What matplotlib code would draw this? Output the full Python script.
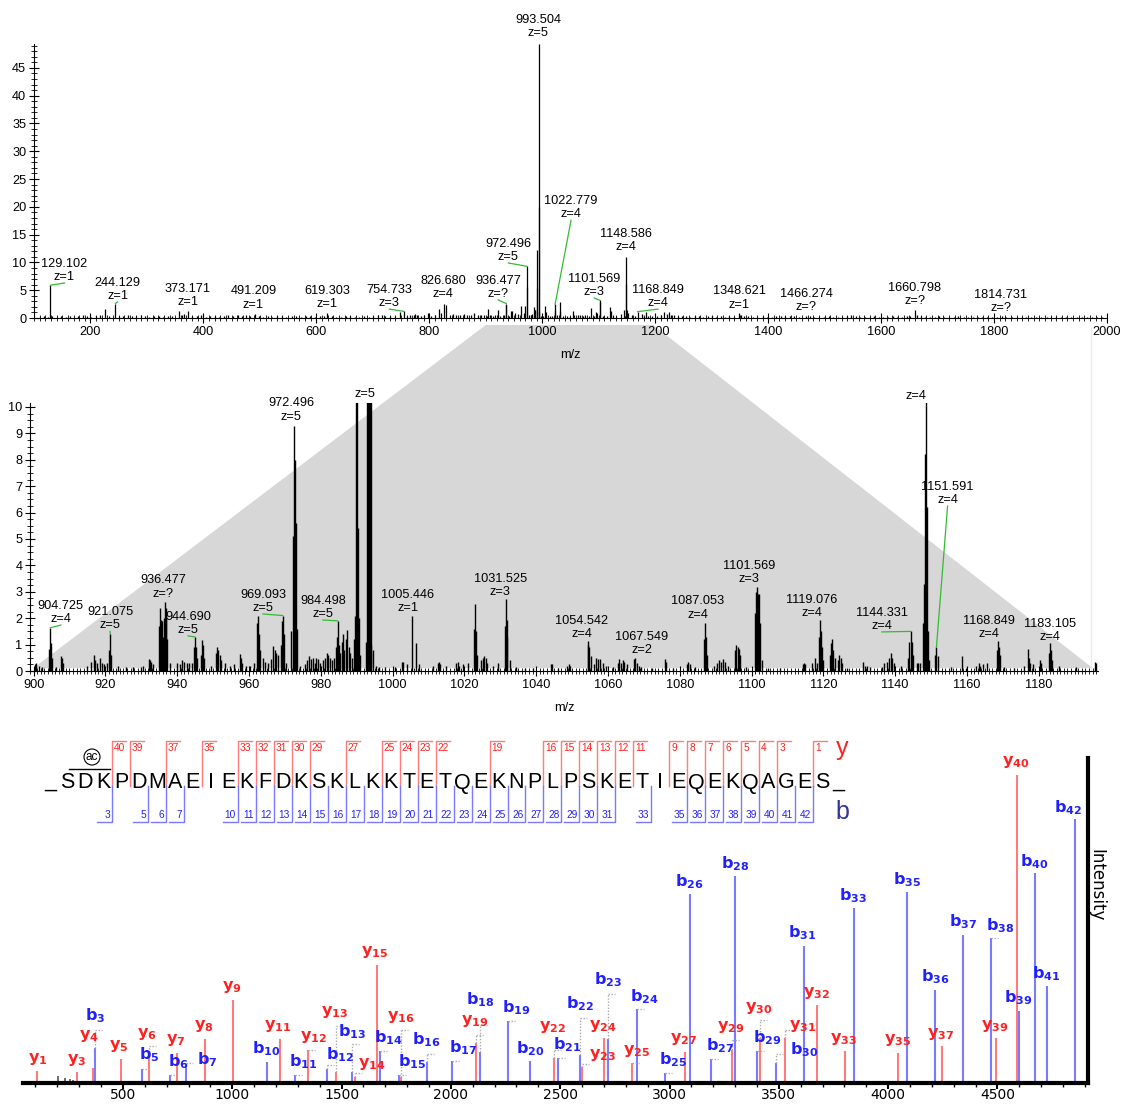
import numpy as np
import matplotlib
matplotlib.use("Agg")
import matplotlib.pyplot as plt
from matplotlib.patches import Polygon, Circle
from matplotlib.ticker import MultipleLocator

plt.rcParams['font.family'] = ['Liberation Sans', 'DejaVu Sans']
plt.rcParams['mathtext.fontset'] = 'custom'
plt.rcParams['mathtext.bf'] = 'DejaVu Sans:bold'
plt.rcParams['mathtext.rm'] = 'DejaVu Sans'

# ---------------- data: full MS scan (top) ----------------
top_mz = [110, 118, 124, 129.1, 131, 140, 147, 156, 163, 171, 178, 186, 193, 201, 209, 216, 226, 232,
          244.1, 250, 258, 266, 273, 281, 289, 296, 304, 312, 321, 329, 337, 345, 356, 362, 366, 373.2,
          380, 388, 396, 404, 411, 420, 428, 436, 444, 452, 461, 469, 476, 483, 491.2, 498, 506, 514,
          522, 531, 539, 547, 556, 564, 572, 581, 589, 597, 606, 613, 619.3, 627, 635, 644, 652, 660,
          668, 676, 685, 693, 701, 710, 716, 722, 731, 740, 748, 754.7, 760, 766, 772, 775, 779, 785,
          791, 797, 803, 810, 817.5, 820, 826.7, 830, 836, 842, 848, 855, 861, 867, 873, 880, 886, 892,
          897, 902, 904.7, 908, 913, 917, 921.1, 926, 932, 935.2, 936.5, 941, 944.7, 946.9, 951, 957.5,
          962.3, 967, 969.1, 972.5, 973, 977, 980, 982, 984.5, 986.5, 987.3, 990.1, 990.4, 993.5, 993.9,
          994.3, 997, 1002, 1005.4, 1006.4, 1013, 1018, 1022.8, 1023.3, 1026, 1031.5, 1032, 1037, 1044,
          1049, 1054.5, 1057, 1063, 1067.5, 1072, 1076, 1082.5, 1087.1, 1091, 1095.7, 1096.8, 1101.6,
          1102.2, 1108, 1115, 1119.1, 1122.5, 1124.4, 1131, 1138.9, 1144.3, 1146.5, 1148.6, 1148.9,
          1149.2, 1151.6, 1158.5, 1164, 1168.8, 1177, 1180.5, 1183.1, 1188, 1195, 1203, 1210, 1216,
          1220, 1224, 1228, 1233, 1240, 1247, 1255, 1262, 1270, 1278, 1285, 1293, 1300, 1308, 1316,
          1323, 1331, 1340, 1348.6, 1352, 1358, 1365, 1373, 1381, 1390, 1398, 1406, 1414, 1422, 1430,
          1438, 1446, 1455, 1466.3, 1474, 1482, 1490, 1499, 1507, 1515, 1523, 1531, 1540, 1547, 1555,
          1563, 1571, 1580, 1588, 1596, 1604, 1612, 1621, 1629, 1637, 1645, 1652, 1660.8, 1663, 1670,
          1678, 1687, 1695, 1703, 1712, 1720, 1729, 1737, 1746, 1754, 1762, 1771, 1779, 1788, 1796,
          1805, 1814.7, 1822, 1831, 1840, 1849, 1857, 1866, 1875, 1884, 1893, 1901, 1910, 1919, 1928,
          1937, 1946, 1955, 1964, 1973, 1982, 1991]
top_int = [0.2, 0.3, 0.25, 5.9, 0.4, 0.2, 0.3, 0.25, 0.35, 0.2, 0.3, 0.5, 0.3, 0.25, 0.4, 0.6, 1.7, 0.3,
           2.6, 0.4, 0.3, 0.5, 0.3, 0.4, 0.6, 0.3, 0.2, 0.35, 0.3, 0.25, 0.4, 0.3, 1.2, 0.6, 0.8, 1.2,
           0.4, 0.3, 0.5, 0.2, 0.3, 0.4, 0.25, 0.3, 0.45, 0.3, 0.5, 0.3, 0.6, 0.4, 0.8, 0.3, 0.25, 0.3,
           0.2, 0.35, 0.3, 0.2, 0.4, 0.3, 0.25, 0.35, 0.3, 0.2, 0.3, 0.4, 0.9, 0.3, 0.25, 0.2, 0.3, 0.35,
           0.25, 0.2, 0.3, 0.2, 0.3, 0.5, 0.6, 0.4, 0.3, 0.4, 1.0, 1.2, 0.4, 0.5, 0.6, 0.8, 0.5, 0.4,
           0.6, 0.9, 0.4, 0.5, 1.6, 0.9, 2.6, 2.3, 0.6, 0.7, 0.5, 0.6, 0.8, 0.5, 0.6, 0.9, 0.6, 0.5,
           0.6, 0.4, 1.6, 0.6, 0.4, 0.6, 1.4, 0.4, 0.5, 2.4, 2.6, 0.4, 1.3, 1.2, 0.9, 0.65,
           2.1, 0.9, 2.1, 9.3, 5.6, 0.5, 0.6, 0.7, 1.9, 1.4, 1.5, 12.3, 5.4, 49.3, 20.0,
           1.0, 0.4, 0.35, 2.1, 1.0, 0.35, 0.35, 2.5, 1.5, 0.5, 2.8, 1.3, 0.4, 0.3,
           0.3, 1.2, 0.5, 0.45, 0.5, 0.4, 0.45, 0.35, 1.8, 0.4, 1.0, 0.85, 3.2,
           2.9, 0.4, 0.3, 1.95, 1.2, 0.6, 0.3, 0.7, 1.5, 0.3, 11.0, 6.2,
           1.5, 0.9, 0.55, 0.3, 1.14, 0.8, 0.4, 1.06, 0.3, 0.35, 0.3, 0.5, 1.0,
           0.8, 1.1, 0.6, 0.5, 0.4, 0.3, 0.3, 0.25, 0.3, 0.35, 0.25, 0.3, 0.4, 0.25, 0.3,
           0.2, 0.3, 0.25, 0.9, 0.5, 0.4, 0.3, 0.25, 0.2, 0.3, 0.2, 0.25, 0.3, 0.4, 0.3,
           0.35, 0.3, 0.25, 0.4, 0.3, 0.2, 0.25, 0.2, 0.3, 0.2, 0.25, 0.2, 0.3, 0.45, 0.3,
           0.2, 0.25, 0.2, 0.3, 0.2, 0.25, 0.2, 0.3, 0.25, 0.2, 0.3, 0.4, 1.5, 0.6, 0.3,
           0.2, 0.25, 0.2, 0.3, 0.2, 0.25, 0.2, 0.3, 0.2, 0.25, 0.2, 0.2, 0.25, 0.2, 0.2,
           0.25, 0.3, 0.2, 0.25, 0.2, 0.2, 0.25, 0.2, 0.2, 0.25, 0.2, 0.2, 0.25, 0.2, 0.2,
           0.25, 0.2, 0.2, 0.25, 0.2, 0.2, 0.2]

top_lab_mz = [129.102, 244.129, 373.171, 491.209, 619.303, 754.733, 826.680, 936.477, 972.496, 993.504,
              1022.779, 1101.569, 1148.586, 1168.849, 1348.621, 1466.274, 1660.798, 1814.731]
top_lab_z = ['1', '1', '1', '1', '1', '3', '4', '?', '5', '5', '4', '3', '4', '4', '1', '?', '?', '?']
# label anchor (bottom centre) in data units, and whether a leader is drawn
top_lab_x = [154, 248, 372, 488.5, 619.5, 729, 825, 922, 940, 993, 1051, 1092, 1149, 1205, 1349, 1467, 1660, 1812]
top_lab_y = [6.3, 2.9, 1.8, 1.3, 1.45, 1.6, 3.25, 3.25, 9.9, 50.2, 17.6, 3.6, 11.7, 1.6, 1.3, 0.9, 2.0, 0.7]
top_lead = [True, True, False, False, False, True, False, True, True, False, True, True, False, True,
            False, False, False, False]

# ---------------- data: zoomed scan 900-1200 (middle) ----------------
mid_mz = [900.3, 900.8, 901.4, 902.3, 904.3, 904.7, 904.95, 905.2, 906.2, 907.6, 907.9, 908.2,
          914.8, 915.9, 916.8, 917.1, 917.7, 918.6, 919.1, 919.6, 920.5, 921.1, 921.35, 921.6, 923.4,
          925.7, 927.8, 929.9, 930.4, 932.1, 932.4, 932.8, 933.3, 935.0, 935.25, 935.5, 935.8, 936.1,
          936.3, 936.5, 936.75, 937.0, 937.3, 938.1, 939.9, 940.7, 941.3, 941.9, 942.8, 943.4, 944.2,
          944.7, 944.95, 945.2, 945.6, 946.7, 946.9, 947.2, 947.5, 949.3, 950.8, 951.1, 951.5, 951.9,
          952.3, 953.2, 954.7, 955.8, 957.4, 957.7, 958.1, 959.2, 960.3, 961.4, 962.2, 962.5, 962.8,
          963.2, 963.8, 964.5, 965.3, 966.2, 966.8, 967.2, 967.6, 968.1, 968.8, 969.1, 969.4, 969.7,
          970.2, 971.6, 972.2, 972.5, 972.8, 973.0, 973.3, 974.3, 975.6, 976.2, 976.7, 977.3, 977.9,
          978.4, 978.8, 979.3, 979.8, 980.6, 981.1, 981.6, 982.0, 982.5, 983.0, 983.6, 984.1, 984.4,
          984.7, 985.0, 985.4, 985.9, 986.3, 986.6, 987.1, 987.4, 987.8, 988.2, 988.6, 989.2, 989.6,
          989.85, 990.1, 990.35, 990.6, 991.0, 992.6, 992.9, 993.1, 993.3, 993.5, 993.7, 993.9, 994.1,
          994.5, 995.5, 996.2, 997.9, 1000.8, 1002.5, 1002.8, 1004.1, 1005.45, 1006.4, 1007.3, 1011.3,
          1012.6, 1012.9, 1013.2, 1014.8, 1017.8, 1018.1, 1018.5, 1019.6, 1021.0, 1022.7, 1022.95,
          1023.2, 1023.6, 1024.5, 1025.1, 1025.5, 1025.9, 1026.4, 1028.0, 1029.5, 1031.3, 1031.5,
          1031.75, 1032.0, 1032.6, 1034.5, 1037.0, 1039.2, 1044.0, 1044.3, 1046.2, 1048.5, 1049.1,
          1049.5, 1054.3, 1054.55, 1054.8, 1055.2, 1056.0, 1056.7, 1057.3, 1057.9, 1058.6, 1059.5,
          1061.3, 1062.7, 1063.2, 1063.6, 1064.2, 1064.6, 1065.3, 1067.2, 1067.55, 1068.0, 1068.7,
          1069.3, 1072.3, 1075.8, 1076.1, 1078.2, 1081.9, 1082.4, 1082.8, 1084.3, 1086.8, 1087.05,
          1087.3, 1087.6, 1089.6, 1090.3, 1091.0, 1091.5, 1092.1, 1092.6, 1093.4, 1095.4, 1095.7,
          1096.1, 1096.5, 1096.9, 1098.4, 1100.9, 1101.3, 1101.57, 1101.85, 1102.1, 1102.4, 1102.9,
          1104.6, 1107.8, 1114.2, 1114.6, 1115.0, 1116.8, 1117.6, 1118.1, 1118.8, 1119.08, 1119.3,
          1119.6, 1120.0, 1121.8, 1122.2, 1122.5, 1122.8, 1123.2, 1124.1, 1124.4, 1124.8, 1125.2,
          1126.5, 1131.0, 1131.5, 1132.1, 1133.1, 1136.4, 1137.0, 1137.6, 1138.3, 1138.7, 1139.1,
          1139.6, 1141.6, 1143.5, 1143.9, 1144.3, 1144.6, 1145.0, 1146.0, 1146.4, 1146.9, 1147.7,
          1148.0, 1148.3, 1148.6, 1148.85, 1149.1, 1149.5, 1151.2, 1151.5, 1151.8, 1155.5, 1158.5,
          1159.8, 1162.4, 1163.3, 1163.7, 1164.4, 1165.5, 1168.4, 1168.7, 1169.0, 1169.3, 1170.2,
          1173.2, 1175.9, 1176.9, 1177.2, 1177.6, 1178.5, 1180.3, 1180.7, 1182.8, 1183.1, 1183.4,
          1183.7, 1185.6, 1190.4, 1195.6, 1195.9]
mid_int = [0.25, 0.3, 0.2, 0.15, 0.85, 1.64, 1.05, 0.5, 0.15, 0.55, 0.5, 0.3,
           0.2, 0.35, 0.6, 0.4, 0.3, 0.5, 0.3, 0.25, 0.3, 0.8, 1.42, 0.6, 0.2,
           0.15, 0.15, 0.15, 0.2, 0.45, 0.4, 0.35, 0.25, 1.7, 2.4, 1.95, 1.9, 1.3,
           2.0, 2.63, 2.2, 2.4, 1.2, 0.3, 0.3, 0.25, 0.4, 0.35, 0.3, 0.3, 0.3,
           0.9, 1.29, 0.9, 0.5, 0.6, 1.17, 1.0, 0.5, 0.2, 0.7, 0.91, 0.8, 0.6,
           0.4, 0.3, 0.2, 0.25, 0.65, 0.5, 0.3, 0.2, 0.2, 0.3, 1.8, 2.08, 1.4,
           0.8, 0.5, 0.35, 0.3, 0.45, 0.95, 0.8, 0.7, 0.6, 1.0, 1.9, 2.1, 1.4,
           0.3, 1.5, 5.1, 9.27, 8.0, 5.6, 1.6, 0.2, 0.25, 0.4, 0.55, 0.45, 0.5,
           0.3, 0.5, 0.45, 0.3, 0.4, 0.5, 0.7, 0.6, 0.5, 0.4, 0.5, 0.9, 1.3,
           1.9, 1.0, 0.7, 1.1, 1.4, 0.8, 1.2, 1.55, 0.9, 0.7, 0.5, 1.2, 2.1,
           10.2, 10.2, 5.4, 2.0, 0.6, 1.1, 10.2, 10.2, 10.2, 10.2, 10.2, 10.2, 1.0,
           0.8, 0.2, 0.15, 0.15, 0.15, 0.35, 0.35, 0.25, 2.1, 1.05, 0.25, 0.2,
           0.3, 0.35, 0.25, 0.2, 0.3, 0.35, 0.2, 0.25, 0.3, 1.6, 2.52,
           1.5, 0.6, 0.4, 0.5, 0.55, 0.5, 0.3, 0.2, 0.3, 1.7, 2.73,
           1.95, 1.3, 0.4, 0.15, 0.1, 0.1, 0.25, 0.25, 0.1, 0.2, 0.25,
           0.2, 1.0, 1.14, 0.9, 0.55, 0.25, 0.5, 0.45, 0.45, 0.3, 0.2,
           0.15, 0.3, 0.45, 0.3, 0.4, 0.35, 0.25, 0.45, 0.5, 0.3, 0.2,
           0.15, 0.1, 0.45, 0.35, 0.1, 0.25, 0.35, 0.25, 0.15, 1.2, 1.81,
           1.3, 0.6, 0.2, 0.3, 0.4, 0.35, 0.45, 0.35, 0.2, 0.8, 1.0,
           0.9, 0.85, 0.6, 0.15, 2.2, 3.0, 3.2, 2.9, 2.9, 1.8, 0.4,
           0.1, 0.1, 0.25, 0.3, 0.25, 0.3, 0.5, 0.3, 1.3, 1.95, 1.5,
           0.9, 0.4, 0.6, 1.05, 1.22, 0.8, 0.5, 0.4, 0.6, 0.5, 0.3,
           0.1, 0.35, 0.2, 0.2, 0.15, 0.15, 0.3, 0.35, 0.5, 0.7, 0.5,
           0.3, 0.2, 0.5, 1.1, 1.5, 1.1, 0.6, 0.3, 0.3, 0.3, 1.8,
           3.3, 8.2, 10.2, 6.2, 1.5, 0.4, 0.6, 0.9, 0.55, 0.15, 0.55,
           0.1, 0.2, 0.3, 0.2, 0.25, 0.3, 0.8, 1.14, 0.9, 0.6, 0.15,
           0.1, 0.2, 0.83, 0.5, 0.3, 0.25, 0.4, 0.3, 0.7, 1.06, 0.8,
           0.4, 0.2, 0.15, 0.35, 0.3]

mid_lab_mz = [904.725, 921.075, 936.477, 944.690, 969.093, 972.496, 984.498, 993.504, 1005.446,
              1031.525, 1054.542, 1067.549, 1087.053, 1101.569, 1119.076, 1144.331, 1148.586,
              1151.591, 1168.849, 1183.105]
mid_lab_z = ['4', '5', '?', '5', '5', '5', '5', '5', '1', '3', '4', '2', '4', '3', '4', '4', '4', '4', '4', '4']
mid_show_mass = [True] * 7 + [False] + [True] * 8 + [False] + [True] * 3
mid_lab_x = [907.6, 921.3, 936.0, 943.0, 963.9, 971.7, 980.6, 992.3, 1004.2, 1030.0, 1052.7, 1069.4,
             1085.0, 1099.3, 1116.8, 1136.3, 1145.8, 1154.6, 1166.1, 1183.1]
mid_lab_y = [1.74, 1.5, 2.7, 1.33, 2.16, 9.4, 1.93, 10.27, 2.16, 2.77, 1.17, 0.57, 1.9, 3.26, 1.97,
             1.48, 10.2, 6.25, 1.17, 1.06]
mid_lead = [True, True, False, True, True, False, True, False, False, False, False, False, False,
            False, False, True, False, True, False, True]

# ---------------- data: annotated MS/MS (bottom) ----------------
sequence = "SDKPDMAEIEKFDKSKLKKTETQEKNPLPSKETIEQEKQAGES"

b_num = [3, 5, 6, 7, 10, 11, 12, 13, 14, 15, 16, 17, 18, 19, 20, 21, 22, 23, 24, 25, 26, 27, 28, 29,
         30, 31, 33, 35, 36, 37, 38, 39, 40, 41, 42]
b_mz = [373.17, 585.25, 716.29, 787.33, 1158.50, 1286.59, 1433.66, 1548.69, 1676.78, 1763.81,
        1891.91, 2004.99, 2133.09, 2261.18, 2362.23, 2491.27, 2592.32, 2720.38, 2849.42, 2977.52,
        3091.56, 3188.61, 3301.70, 3398.75, 3485.78, 3613.88, 3843.97, 4086.09, 4214.15, 4343.20,
        4471.29, 4599.35, 4670.39, 4727.41, 4856.45]
b_int = [10.8, 4.2, 2.5, 5.5, 6.5, 2.5, 4.2, 3.5, 10.0, 2.5, 6.6, 6.7, 9.6, 19.2, 6.7, 7.6, 8.6,
         13.4, 22.7, 3.0, 58.2, 7.3, 63.7, 9.8, 6.3, 42.2, 53.8, 58.7, 28.7, 45.4, 44.7, 22.3, 64.5,
         29.7, 81.1]
b_lab_x = [372, 619, 756, 886, 1154, 1325, 1493, 1546, 1714, 1821, 1889, 2057, 2133, 2301, 2362,
           2530, 2591, 2717, 2885, 3017, 3089, 3231, 3300, 3447, 3615, 3609, 3841, 4085, 4215, 4341,
           4512, 4596, 4668, 4722, 4823]
b_lab_y = [20.8, 8.6, 6.6, 7.3, 10.6, 6.6, 8.6, 15.9, 14.1, 6.5, 13.4, 10.8, 25.6, 23.3, 10.6,
           11.8, 24.4, 31.7, 26.6, 7.3, 62.1, 11.4, 67.6, 13.9, 10.3, 46.3, 57.6, 62.5, 32.7, 49.5,
           48.5, 26.4, 68.0, 33.7, 84.7]

y_num = [1, 3, 4, 5, 6, 7, 8, 9, 11, 12, 13, 14, 15, 16, 19, 22, 23, 24, 25, 27, 29, 30, 31, 32,
         33, 35, 37, 39, 40]
y_mz = [106.05, 292.11, 363.15, 491.21, 619.30, 748.35, 876.40, 1005.45, 1219.58, 1348.62, 1476.72,
        1563.75, 1660.80, 1773.88, 2113.07, 2471.22, 2600.27, 2701.31, 2829.41, 3070.59, 3285.71,
        3413.81, 3528.84, 3675.90, 3804.00, 4046.13, 4246.21, 4492.28, 4589.33]
y_int = [3.7, 3.4, 4.7, 7.3, 9.5, 9.3, 13.6, 25.6, 13.6, 10.1, 3.5, 1.9, 36.3, 2.0, 12.4, 7.8, 4.9,
         13.7, 6.3, 9.6, 10.3, 13.9, 13.9, 24.1, 9.8, 9.3, 11.4, 13.7, 94.8]
y_lab_x = [112, 288, 346, 483, 611, 741, 870, 1000, 1210, 1374, 1470, 1639, 1653, 1770, 2107, 2466,
           2693, 2697, 2850, 3066, 3281, 3409, 3607, 3673, 3798, 4044, 4242, 4489, 4585]
y_lab_y = [7.3, 7.1, 14.4, 11.4, 15.1, 13.2, 17.5, 29.4, 17.5, 14.1, 21.7, 5.8, 40.2, 20.3, 19.0,
           17.2, 8.6, 17.5, 9.8, 13.4, 17.2, 23.1, 17.5, 27.6, 13.6, 13.1, 15.1, 17.5, 98.8]

other_mz = [204, 235, 258, 273]
other_int = [2.2, 1.4, 1.2, 1.0]

# grey dotted markers: peak m/z, start level, upper level
dot_mz = [373.17, 585.25, 619.30, 716.29, 787.33, 1286.59, 1348.62, 1433.66, 1476.72, 1548.69,
          1563.75, 1676.78, 1763.81, 1773.88, 1891.91, 2004.99, 2113.07, 2133.09, 2261.18, 2471.22,
          2491.27, 2592.32, 2600.27, 2720.38, 2829.41, 2849.42, 2977.52, 3188.61, 3285.71, 3398.75,
          3413.81, 3485.78, 3528.84, 4471.29]
dot_lo = [10.8, 4.2, 9.5, 2.5, 5.5, 2.5, 10.1, 4.2, 3.5, 3.5, 1.9, 10.0, 2.5, 2.0, 6.6, 6.7, 12.4,
          9.6, 19.2, 7.8, 7.6, 8.6, 4.9, 13.4, 6.3, 22.7, 3.0, 7.3, 10.3, 9.8, 13.9, 6.3, 13.9, 44.7]
dot_hi = [16.4, 4.2, 11.4, 2.5, 6.3, 2.5, 10.1, 5.5, 17.5, 11.9, 3.0, 10.0, 2.5, 16.4, 9.0, 6.7,
          14.9, 18.0, 19.2, 10.3, 7.6, 20.0, 6.0, 27.3, 6.3, 22.7, 3.0, 7.3, 13.1, 9.8, 19.5, 9.0,
          16.4, 44.7]

# ---------------- figure ----------------
W, H = 1123, 1104
fig = plt.figure(figsize=(W / 100, H / 100), dpi=100)


def px_axes(left, top, right, bottom, z=2):
    a = fig.add_axes([left / W, 1 - bottom / H, (right - left) / W, (bottom - top) / H])
    a.set_zorder(z)
    a.patch.set_alpha(0)
    return a


ax0 = px_axes(0, 0, W, H, z=0)
ax0.set_xlim(0, W)
ax0.set_ylim(H, 0)
ax0.axis('off')

ax1 = px_axes(34, 44, 1107, 318)
ax2 = px_axes(30, 403, 1098, 671)
ax3 = px_axes(23, 758, 1088, 1083)

green = '#33bb33'
lab_fs = 9.2

# ---- top
ax1.vlines(top_mz, 0, top_int, color='black', lw=0.9)
ax1.set_xlim(100, 2000)
ax1.set_ylim(0, 49.3)
for s in ['top', 'right']:
    ax1.spines[s].set_visible(False)
ax1.xaxis.set_major_locator(MultipleLocator(200))
ax1.xaxis.set_minor_locator(MultipleLocator(10))
ax1.yaxis.set_major_locator(MultipleLocator(5))
ax1.yaxis.set_minor_locator(MultipleLocator(1))
ax1.tick_params(which='major', direction='inout', length=7, labelsize=lab_fs, pad=2)
ax1.tick_params(which='minor', direction='inout', length=4)
ax1.set_xlabel('m/z', fontsize=lab_fs, labelpad=8)

tm = np.array(top_mz)
ti = np.array(top_int)
for m, z, lx, ly, lead in zip(top_lab_mz, top_lab_z, top_lab_x, top_lab_y, top_lead):
    ax1.text(lx, ly, f"{m:.3f}\nz={z}", ha='center', va='bottom', fontsize=lab_fs, linespacing=1.15)
    if lead:
        sel = np.abs(tm - m) < 1.0
        k = np.argmax(np.where(sel, ti, -1))
        ax1.plot([lx, tm[k]], [ly, ti[k]], color=green, lw=0.9, clip_on=False)

# ---- middle
ax2.vlines(mid_mz, 0, mid_int, color='black', lw=1.0)
ax2.set_xlim(899, 1196.5)
ax2.set_ylim(0, 10.15)
for s in ['top', 'right']:
    ax2.spines[s].set_visible(False)
ax2.xaxis.set_major_locator(MultipleLocator(20))
ax2.xaxis.set_minor_locator(MultipleLocator(1))
ax2.yaxis.set_major_locator(MultipleLocator(1))
ax2.yaxis.set_minor_locator(MultipleLocator(0.25))
ax2.tick_params(which='major', direction='inout', length=7, labelsize=lab_fs, pad=2)
ax2.tick_params(which='minor', direction='inout', length=4)
ax2.set_xlabel('m/z', fontsize=lab_fs, labelpad=8)

mm = np.array(mid_mz)
mi = np.array(mid_int)
for m, z, show, lx, ly, lead in zip(mid_lab_mz, mid_lab_z, mid_show_mass, mid_lab_x, mid_lab_y, mid_lead):
    txt = f"{m:.3f}\nz={z}" if show else f"z={z}"
    ax2.text(lx, ly, txt, ha='center', va='bottom', fontsize=lab_fs, linespacing=1.15)
    if lead:
        sel = np.abs(mm - m) < 0.4
        k = np.argmax(np.where(sel, mi, -1))
        ax2.plot([lx, mm[k]], [ly, mi[k]], color=green, lw=0.9)


# grey zoom wedge between the two scans
def to_px(ax, x, y):
    dx, dy = ax.transData.transform((x, y))
    return dx, H - dy


p1 = to_px(ax1, 900, 0)
p2 = to_px(ax1, 1196.5, 0)
p3 = to_px(ax2, 1195, 0)
p4 = to_px(ax2, 900, 0)
wedge = Polygon([(p1[0], p1[1] + 7), (p2[0], p2[1] + 7), (p3[0], p3[1] - 3), (p4[0], p4[1] - 3)],
                closed=True, facecolor='#d7d7d7', edgecolor='none', zorder=0)
ax0.add_patch(wedge)
ax0.plot([1091, 1091], [328, 671], color='#ececec', lw=1)

# ---- bottom (MS/MS)
red_line, red_txt = '#ff7a7a', '#ff2020'
blue_line, blue_txt = '#7a7aff', '#2020ff'

ax3.vlines(other_mz, 0, other_int, color='#555555', lw=1.2)
ax3.vlines(y_mz, 0, y_int, color=red_line, lw=1.5)
ax3.vlines(b_mz, 0, b_int, color=blue_line, lw=1.5)
for m, lo_, hi_ in zip(dot_mz, dot_lo, dot_hi):
    if hi_ > lo_:
        ax3.plot([m, m], [lo_, hi_], color='#aaaaaa', lw=1, ls=(0, (1, 1.2)))
    ax3.plot([m, m + 32], [hi_, hi_], color='#aaaaaa', lw=1, ls=(0, (1, 1.2)))

for n, x, y in zip(y_num, y_lab_x, y_lab_y):
    ax3.text(x, y, r'$\mathbf{y}_{\mathbf{%d}}$' % n, color=red_txt, fontsize=11.5, ha='center', va='center')
for n, x, y in zip(b_num, b_lab_x, b_lab_y):
    ax3.text(x, y, r'$\mathbf{b}_{\mathbf{%d}}$' % n, color=blue_txt, fontsize=11.5, ha='center', va='center')

ax3.set_xlim(43, 4914)
ax3.set_ylim(0, 100)
for s in ['top', 'left']:
    ax3.spines[s].set_visible(False)
for s in ['bottom', 'right']:
    ax3.spines[s].set_linewidth(3)
ax3.xaxis.set_major_locator(MultipleLocator(500))
ax3.xaxis.set_minor_locator(MultipleLocator(100))
ax3.tick_params(axis='x', which='major', length=4, width=1.5, labelsize=10, pad=-0.5)
ax3.tick_params(axis='x', which='minor', length=3, width=1)
ax3.tick_params(axis='x', labelfontfamily='DejaVu Sans')
ax3.tick_params(axis='y', which='both', left=False, right=False, labelleft=False)
ax3.yaxis.set_label_position('right')
ax3.set_ylabel('Intensity', rotation=270, fontsize=12, family='DejaVu Sans')
ax3.yaxis.set_label_coords(1.016, 0.61)

# ---- peptide sequence with fragment brackets
x0, step, yc = 67, 17.98, 783
for i, ch in enumerate(sequence):
    ax0.text(x0 + i * step, yc, ch, fontsize=15.5, ha='center', va='center')
ax0.text(x0 - 17, yc - 2, '_', fontsize=15.5, ha='center', va='center')
ax0.text(x0 + len(sequence) * step - 2, yc - 2, '_', fontsize=15.5, ha='center', va='center')

n_res = len(sequence)
for n in y_num:
    xb = x0 + (n_res - n - 0.5) * step
    ax0.plot([xb, xb, xb + 14], [786, 741, 741], color=red_line, lw=1)
    ax0.text(xb + 2, 748, str(n), fontsize=7.3, color=red_txt, ha='left', va='center')
for n in b_num:
    xb = x0 + (n - 0.5) * step
    ax0.plot([xb - 15, xb, xb], [822, 822, 786], color=blue_line, lw=1)
    ax0.text(xb - 2, 815, str(n), fontsize=7.3, color=blue_txt, ha='right', va='center')

ax0.text(842, 748, 'y', fontsize=18, color=red_txt, ha='center', va='center')
ax0.text(842, 812, 'b', fontsize=18, color='#333399', ha='center', va='center')

# N-terminal acetylation mark
ax0.plot([69, 110], [769, 769], color='black', lw=1)
ax0.add_patch(Circle((92, 757), 8, facecolor='white', edgecolor='black', lw=0.8))
ax0.text(92, 757, 'ac', fontsize=8.5, ha='center', va='center')

fig.savefig('out.png', dpi=100)
